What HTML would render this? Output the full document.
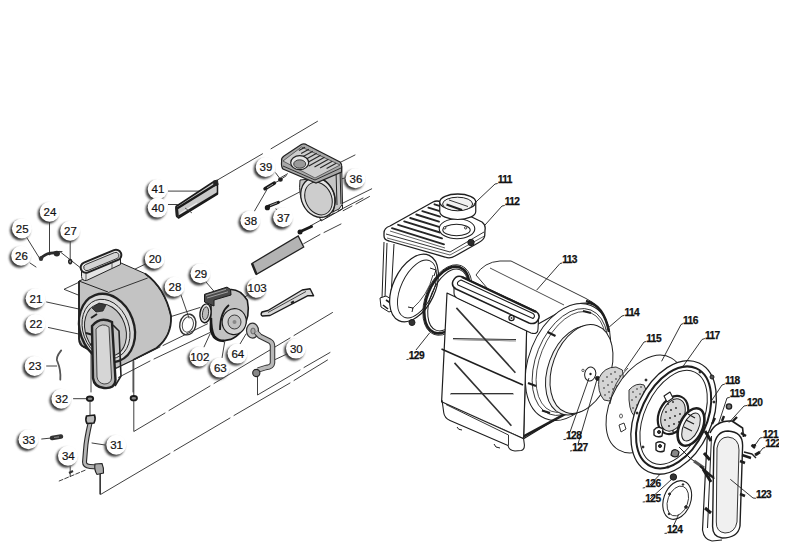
<!DOCTYPE html>
<html><head><meta charset="utf-8"><style>
html,body{margin:0;padding:0;background:#fff;width:800px;height:547px;overflow:hidden}
svg{display:block}
.c{font-family:"Liberation Sans",sans-serif;font-size:11.5px;fill:#111;stroke:#111;stroke-width:0.2px}
.b{font-family:"Liberation Sans",sans-serif;font-size:10.2px;font-weight:bold;fill:#111;stroke:#111;stroke-width:0.25px;letter-spacing:-0.55px}
</style></head><body>
<svg width="800" height="547" viewBox="0 0 800 547">
<defs><filter id="sh" x="-50%" y="-50%" width="200%" height="200%"><feGaussianBlur stdDeviation="1.1"/></filter></defs>
<rect width="800" height="547" fill="#fff"/>

<g fill="none" stroke="#2a2a2a" stroke-width="0.9" stroke-linecap="round">
<!-- axis lines left group -->
<path d="M217.5,180 L262.5,153.8 M271,148.8 L317.5,121.3" />
<path d="M276.2,204.1 L303.7,189.9" />
<path d="M281,177.5 L287.5,173.8" />
<path d="M340,162.5 L355,155" />
<path d="M341,204 L371.7,188.8" />
<path d="M343.2,210.7 L352,206 M356,204 L369.5,196.5" />
<path d="M310.2,226 L322,219.5 M326,217.5 L334,213 M338,211 L363,198" />
<path d="M303.7,243.7 L320,234.5 M324,232.5 L341,224" />
<!-- long lines bottom -->
<path d="M133.8,361.5 L133.8,431.5 L165,413 M169,410.5 L210,386 M214,383.5 L290,338 M294,335.5 L332.5,312.5" />
<path d="M100.5,473.5 L100.5,494.5 L170,453.5 M174,451 L230,418 M234,415.5 L290,383 M294,380.5 L327.5,360" />
<path d="M257.5,375 L257.5,395 L300,370 M304,367.5 L330,352.5" />
<path d="M115.6,368.7 L160,347 M163,345.5 L207.5,323.8" />
<path d="M118.5,377.4 L150,361 M154,359 L210,332.5" />
<path d="M160,320 L200,307.5" />
<path d="M79.5,282 L64,289.3 L79.5,295.5" />
<path d="M60,251.7 L82,269" />
<path d="M90,398.7 L90,419.5" />
<path d="M91,352 L91,392" />
<path d="M133,358 L133,392" />
<!-- leaders -->
<path d="M168.4,191.1 L199.2,191.1" />
<path d="M168.4,204.5 L177.4,204.5" />
<path d="M275.6,172.8 L279.5,178" />
<path d="M254.4,211.2 L266.7,190" />
<path d="M276,208.8 L279,214" />
<path d="M345,178 L337,180" />
<path d="M49.5,222 L49.5,255 Q52,251 62,251.5" />
<path d="M27,238 L40,259" />
<path d="M70.2,241 L70.2,262" />
<path d="M30,263 L36,267" />

<path d="M146,263.8 L131,271" />
<path d="M46.6,302 L96.9,312.9" />
<path d="M48.4,327.5 L82.3,334.8" />
<path d="M46.6,366 L56.7,366" />
<path d="M61.2,350.4 Q55,358 57.6,362 Q61,370 60.3,379.6" stroke-width="1.8" stroke="#555"/>
<path d="M73.5,398.7 L86,398.7" />
<path d="M41.7,439 L51.6,438" />
<path d="M70.2,466.7 L70.2,476.5" />
<path d="M59.2,481 L85.6,470" stroke-dasharray="4 2"/>
<path d="M105,445 L92,443" />
<path d="M181,295 L189,318" />
<path d="M206,282 L218,296" />
<path d="M248,295 L232,305" />
<path d="M204,347 L210,334" />
<path d="M222,358 L225,340" />
<path d="M240,344 L246,334" />
<path d="M287,354 L272,361" />
<path d="M99.8,472 L99.8,494" />
</g>
<!-- part 41/40 bar -->
<path d="M176,206.5 L214,181.5 L217.5,183.5 L217.5,194 L178.5,218 L176.5,216 Z" fill="#c9c9c9" stroke="#1a1a1a" stroke-width="1.5" stroke-linejoin="round"/>
<path d="M177,208.5 L216.5,184" stroke="#1a1a1a" stroke-width="2.2"/>
<path d="M178.5,216.5 L217.5,193" stroke="#1a1a1a" stroke-width="1.8"/>
<path d="M180,213.5 L197,203" stroke="#f4f4f4" stroke-width="1"/>
<path d="M176.5,207 L177.5,217" stroke="#222" stroke-width="2.8"/>
<path d="M213.5,181 L217.5,180 L218,185 L214,186 Z" fill="#222" stroke="#222" stroke-width="1"/>
<path d="M185,208 L192,213" stroke="#333" stroke-width="0.8"/>
<!-- o-ring 39, pin 38, screw 37 -->
<ellipse cx="280.4" cy="179.7" rx="2.4" ry="2.1" fill="#222"/>
<path d="M265,188.8 L274.5,183" stroke="#1a1a1a" stroke-width="3.4" stroke-linecap="round"/>
<path d="M267,187.8 L273,184.2" stroke="#999" stroke-width="1"/>
<path d="M274.5,183 L279.7,180.3 M282,178.5 L286.6,175.5" stroke="#222" stroke-width="0.9"/>
<path d="M268,206.5 L278.4,202.3" stroke="#1a1a1a" stroke-width="3" stroke-linecap="round"/>
<path d="M270,205.6 L277,202.8" stroke="#aaa" stroke-width="0.9"/>
<circle cx="267.4" cy="207.7" r="2.6" fill="#1a1a1a"/>
<path d="M300.5,231.5 L311.5,226.5" stroke="#1a1a1a" stroke-width="3" stroke-linecap="round"/>
<circle cx="300" cy="232" r="2.5" fill="#1a1a1a"/>
<!-- part 36 -->
<g stroke="#222" stroke-width="1">
<path d="M300,180 L324.4,177.5 L341.7,166 L342.5,204 L339,209 L322,217 L305,208 Q298,195 300,180 Z" fill="#c6c6c6"/>
<path d="M336,171 L337,205 M340,169 L341,204" fill="none" stroke-width="1"/>
<ellipse cx="318" cy="197.5" rx="16.5" ry="20.5" transform="rotate(-25 318 197.5)" fill="#e4e4e4" stroke-width="1.3"/>
<path d="M321,178 Q340,190 333,212" fill="none" stroke-width="1.1"/>
<ellipse cx="318.5" cy="198.5" rx="13" ry="17" transform="rotate(-25 318.5 198.5)" fill="#cdcdcd" stroke-width="1"/>
<path d="M319.4,217 L321,221 L342.5,209 L342.5,205" fill="none" stroke-width="1"/>
<path d="M281.6,161 Q281,158 284,156 L301.3,144.6 Q304,143 307,145 L340,162 Q342,164 341.7,167 L341.5,172 L316,183 L283,169 Q281,167 281.6,161 Z" fill="#a8a8a8" stroke-width="1.2"/>
<path d="M283,161 L301.5,147 L340,165 L315,178 Z" fill="#cdcdcd" stroke-width="0.6"/>
<path d="M283,166 L315,180 L341,168" fill="none" stroke-width="0.9"/>
<path d="M305.0,147.2 L298.9,150.6 M308.9,149.2 L301.1,153.6 M312.8,151.2 L303.2,156.6 M316.7,153.2 L302.8,161.0 M320.6,155.2 L304.9,164.0 M324.5,157.2 L308.8,166.0 M328.4,159.2 L314.5,167.0 M332.3,161.2 L320.1,168.1 M336.2,163.2 L326.6,168.6" stroke="#2a2a2a" stroke-width="1.2"/>
<ellipse cx="299.7" cy="162.7" rx="9" ry="7" fill="#e6e6e6" stroke-width="1.2"/>
<ellipse cx="299.7" cy="164" rx="6" ry="4.2" fill="#9a9a9a" stroke-width="0.8"/>
</g>
<!-- slab near 36 bottom -->
<path d="M252,263.4 L256.5,274.4 L303.7,247 L298.2,236 Z" fill="#b3b3b3" stroke="#222" stroke-width="1.3"/>
<path d="M252,263.4 L256.5,274.4" stroke="#222" stroke-width="2.5"/>
<!-- part 24-27 -->
<path d="M40.5,258.5 Q47,252 56,253" fill="none" stroke="#2a2a2a" stroke-width="2.6"/>
<ellipse cx="41" cy="258.5" rx="2.2" ry="2.6" fill="#333"/>
<ellipse cx="56.8" cy="253.6" rx="3.2" ry="2.8" fill="#2a2a2a"/>
<ellipse cx="70.2" cy="261.6" rx="2.2" ry="2.8" fill="#222"/>
<ellipse cx="70.2" cy="261.6" rx="0.8" ry="1.2" fill="#999"/>
<!-- part 20 housing -->
<g stroke="#222" stroke-width="1">
<path d="M79,281 L121,263 L145,273.6 Q165,288 171,316 Q172,336 156.5,348 L133,360 L116,368 L92,352 L83,347 L79,339 Z" fill="#c3c3c3"/>
<path d="M145,273.6 Q165,288 171,316 Q172,336 156.5,348 L133,360" fill="none" stroke-width="1.8"/>
<path d="M108.2,292.6 L147.7,278" stroke-width="0.9"/>
<path d="M79,281 L79,339 Q79,346 85,347 L92,351" fill="none" stroke-width="1.8"/>
<path d="M79,281 L108,292" fill="none" stroke-width="1"/>
<ellipse cx="107" cy="328" rx="27" ry="35" transform="rotate(-20 107 328)" fill="#d9d9d9" stroke-width="2.3"/>
<ellipse cx="106" cy="329" rx="23" ry="30.5" transform="rotate(-20 106 329)" fill="#dedede" stroke-width="0.9"/>
<ellipse cx="105.5" cy="330" rx="20" ry="27" transform="rotate(-20 105.5 330)" fill="#c4c4c4" stroke-width="1"/>
<path d="M92,308 L99,303 L106,305 L103,311 L96,312 Z" fill="#3a3a3a" stroke-width="0.8"/>
<path d="M91,318 L97,314 M86,333 L93,335 M90,345 L96,341" stroke-width="2" fill="none"/>


<path d="M81.5,268 L81.5,276.5 Q82,281 86.5,280.5 L120.5,264.5 L120.5,257 Z" fill="#e4e4e4" stroke-width="1"/>
<path d="M86,273 L86,280 M112,262 L112,268" stroke-width="0.7" fill="none"/>
<path d="M83.96,262.6 L113.96,250.1 A5.3,5.3 0 0 1 118.04,259.9 L88.04,272.4 A5.3,5.3 0 0 1 83.96,262.6 Z" fill="#e8e8e8" stroke-width="2"/>
<path d="M85.7,264.5 L114.5,252.6 A3.2,3.2 0 0 1 117,258.5 L88.2,270.4 A3.2,3.2 0 0 1 85.7,264.5 Z" fill="#d4d4d4" stroke-width="0.9"/>

<path d="M92,326 Q100,316 112,322 L115.5,380 Q115,389 104,388 Q94,387 93,378 Z" fill="#b8b8b8" stroke-width="2.4"/>
<path d="M113,325 L119,331 L121,376 L115,386" fill="none" stroke-width="1.6"/>
<path d="M96,329 Q102,322 109,327 L111.5,378 Q111,384 104,384 Q98,383 97,377 Z" fill="#d6d6d6" stroke-width="0.8"/>

</g>
<!-- ring 28 -->
<ellipse cx="187.8" cy="324.5" rx="8" ry="10.5" transform="rotate(12 187.8 324.5)" fill="none" stroke="#333" stroke-width="1.4"/>
<ellipse cx="187.8" cy="324.5" rx="5.5" ry="7.8" transform="rotate(12 187.8 324.5)" fill="none" stroke="#444" stroke-width="1"/>
<!-- blower 29 -->
<g stroke="#1a1a1a" stroke-width="1.2">
<path d="M213.4,293 L230.6,289.5 Q240,289 247.3,300.2 Q249,308 247.8,315.6 Q246,324 242.5,330 Q237,337 230.6,339.4 Q224,341 218.8,340.6 Q214,339 212.8,335.8 Q210,331 210.4,327.5 L211,305 Z" fill="#c2c2c2" stroke-width="1.6"/>
<path d="M211,318 Q211,330 214,336 Q218,341 224,341" fill="none" stroke-width="2.4"/>
<path d="M229,305 Q220,312 220,330" fill="none" stroke-width="1.8"/>
<path d="M204.5,294.3 L227,287.1 L230.6,289.5 L231,295 L214,300 L214,306 L204.5,302 Z" fill="#4a4a4a" stroke-width="1"/>
<path d="M206,295.5 L226,289.3 M207,298 L228,291.8" stroke="#aaa" stroke-width="0.9"/>
<ellipse cx="234.2" cy="321.6" rx="12" ry="13" transform="rotate(10 234.2 321.6)" fill="#d2d2d2" stroke-width="1.1"/>
<ellipse cx="234.5" cy="322" rx="6.5" ry="7" fill="#c0c0c0" stroke-width="0.8"/>
<circle cx="234.5" cy="322" r="2" fill="#888" stroke="none"/>
<ellipse cx="205.5" cy="313.3" rx="5.5" ry="9.5" transform="rotate(8 205.5 313.3)" fill="#e0e0e0" stroke-width="1.4"/>
<ellipse cx="205.5" cy="313.3" rx="3" ry="6.5" transform="rotate(8 205.5 313.3)" fill="#bbb" stroke-width="0.8"/>
</g>
<ellipse cx="252.5" cy="330.6" rx="6" ry="7.5" fill="#c4c4c4" stroke="#333" stroke-width="1.2"/>
<ellipse cx="253" cy="331" rx="2.2" ry="3" fill="#aaa" stroke="#333" stroke-width="0.6"/>
<!-- bar 103 -->
<path d="M262,312 Q260,315 262.5,316 L270,315.5 L307.5,295.8 L313.6,295.7 L310.1,288.7 L302.2,290 L268,310.5 Z" fill="#d8d8d8" stroke="#1a1a1a" stroke-width="1.4" stroke-linejoin="round"/>
<path d="M268,312.5 L306,291.5" stroke="#333" stroke-width="0.9"/>
<path d="M291,303 L294,301.5" stroke="#222" stroke-width="2"/>
<!-- pipe 30 -->
<path d="M256,332 L260,336.3 L270,341.3 Q273,343 272.5,348 L272.5,363 Q272,367 266,367.5 L258,370" fill="none" stroke="#333" stroke-width="5.5" stroke-linejoin="round"/>
<path d="M256,332 L260,336.3 L270,341.3 Q273,343 272.5,348 L272.5,363 Q272,367 266,367.5 L258,370" fill="none" stroke="#b8b8b8" stroke-width="3.5" stroke-linejoin="round"/>
<circle cx="256.3" cy="373" r="3.6" fill="#888" stroke="#222" stroke-width="1.1"/>
<!-- o-rings vertical lines -->
<ellipse cx="90" cy="398.7" rx="3.2" ry="2.2" fill="#888" stroke="#1a1a1a" stroke-width="1.8"/>
<ellipse cx="133.8" cy="398.2" rx="3.2" ry="2.2" fill="#888" stroke="#1a1a1a" stroke-width="1.8"/>
<!-- pipe 31 -->
<path d="M90.5,421 Q86,440 85.5,450 L84.5,462 Q84.5,466 90,466.5 L97,467" fill="none" stroke="#2a2a2a" stroke-width="5" stroke-linejoin="round"/>
<path d="M90.5,421 Q86,440 85.5,450 L84.5,462 Q84.5,466 90,466.5 L97,467" fill="none" stroke="#b5b5b5" stroke-width="2.8" stroke-linejoin="round"/>
<path d="M86.5,416 L94.5,415 Q96,419 94,423 L87,423.5 Q85,420 86.5,416 Z" fill="#bbb" stroke="#1a1a1a" stroke-width="1.6"/>
<path d="M95,464 L102,463.5 Q104,468 103.5,473 L97,474.5 Q94,470 95,464 Z" fill="#aaa" stroke="#222" stroke-width="1.1"/>
<!-- 33 part -->
<path d="M52,438 L61,436.5" stroke="#333" stroke-width="4.5" stroke-linecap="round"/><path d="M54,437.5 L59,436.8" stroke="#888" stroke-width="1.2"/>
<path d="M69,473 L73,471" stroke="#333" stroke-width="2"/>

<g stroke="#1e1e1e" stroke-width="1" fill="#fff" stroke-linejoin="round">
<!-- 112 body legs and opening -->
<path d="M384,242 L382,298 M387,243 L385,297 M394,244 L391,296" fill="none" stroke-width="1"/>
<path d="M380,298 L386,296 L393,300 L394,310 L389,312 L381,307 Z" fill="#fff" stroke-width="1"/>
<path d="M386,300 L392,304 M383,305 L388,309" stroke-width="1.6" fill="none"/>
<ellipse cx="414" cy="288" rx="21" ry="36" transform="rotate(25 414 288)" fill="#fff" stroke-width="1.2"/>
<ellipse cx="417" cy="289" rx="16" ry="31" transform="rotate(25 417 289)" fill="#fff" stroke-width="0.9"/>
<path d="M430,268 L436,270 L434,276 M408,307 L413,308 L412,312" fill="none" stroke-width="1"/>
<path d="M433,275 Q428,295 412,309" fill="none" stroke-width="0.8"/>
<circle cx="412" cy="322.5" r="3" fill="#333"/>
<!-- gasket 129 -->
<ellipse cx="447" cy="300" rx="20" ry="35" transform="rotate(22 447 300)" fill="none" stroke-width="2.6"/>
<ellipse cx="448" cy="300" rx="17.5" ry="32.5" transform="rotate(22 448 300)" fill="none" stroke-width="1"/>
<ellipse cx="447.5" cy="300" rx="22" ry="37" transform="rotate(22 447.5 300)" fill="none" stroke-width="0.8"/>
<!-- lid 112 -->
<path d="M384,233 Q384,228 390,226 L433,202 Q437,200 441,202 L482,222 Q486,225 485,230 L484.7,236 Q484,240 478,243 L455,256 Q450,259 445,257 L389,241 Q384,240 384,236 Z" fill="#fff" stroke-width="1.3"/>
<path d="M386,234 L450,252 L484,232" fill="none" stroke-width="0.9"/>
<path d="M387,238 L450,255 L484.5,236" fill="none" stroke-width="0.7"/>
<path d="M390,231 L445,248" fill="none" stroke-width="0.7"/>
<path d="M392.0,228.2 L444.0,244.3 M398.1,224.8 L442.0,238.4 M404.2,221.4 L440.0,232.5 M410.2,218.0 L439.0,226.9 M416.3,214.5 L439.0,221.6 M422.3,211.1 L440.0,216.6 M428.4,207.7 L443.0,212.2 M434.5,204.3 L446.0,207.9" stroke-width="1.9" stroke="#262626" fill="none" stroke-linecap="round"/>
<ellipse cx="457" cy="228.7" rx="17.8" ry="10" fill="#fff" stroke-width="1.1"/>
<ellipse cx="456.5" cy="230" rx="13.7" ry="5.7" fill="#fff" stroke-width="1.1"/>
<circle cx="444.7" cy="227.8" r="1.2" fill="#fff" stroke-width="0.9"/><circle cx="465.7" cy="227.8" r="1.2" fill="#fff" stroke-width="0.9"/>
<circle cx="471" cy="242.5" r="3.2" fill="#2a2a2a"/>
<!-- ring 111 -->
<path d="M439.75,202 L439.75,211.5 A18,8 0 0 0 475.75,211.5 L475.75,202" fill="#fff" stroke-width="1.2"/>
<ellipse cx="457.75" cy="202" rx="18" ry="8" fill="#fff" stroke-width="1.3"/>
<ellipse cx="457.6" cy="204" rx="15" ry="6.8" fill="#f0f0f0" stroke-width="1"/>
<path d="M446.5,204.5 L462,210" stroke-width="2" fill="none"/>
<path d="M449,200 L468,206.5" stroke-width="0.9" fill="none"/>
<!-- box 113 back cylinder -->
<path d="M476,275 Q484,262 500,261 L511,261 L586,298.5 Q594,302 598,308 L565.8,308.5 L525.6,333.2 Z" fill="#fff" stroke-width="0.9"/>
<path d="M490,268 L564,305" fill="none" stroke-width="0.8"/>
<!-- side panel -->
<path d="M526.6,330.5 L565.8,308.5 Q590,297 600,310 Q610,322 609.7,340 L566.3,412.7 L523.6,438.8 Z" fill="#fff" stroke-width="1.1"/>
<ellipse cx="568" cy="362" rx="39" ry="61" transform="rotate(22 568 362)" fill="#fff" stroke-width="1"/>
<ellipse cx="570" cy="362" rx="34" ry="56" transform="rotate(22 570 362)" fill="#fff" stroke-width="0.8"/>
<ellipse cx="571" cy="362" rx="31" ry="53" transform="rotate(22 571 362)" fill="#fff" stroke-width="0.7"/>
<path d="M586,301 Q604,305 609,332" fill="none" stroke-width="2.6"/>
<path d="M521,437.8 L566.3,413.3" fill="none" stroke-width="2.6"/>
<path d="M547.5,332 L555.5,336 M528,383 L536,386 M542,410.5 L550,413 M583,311 L591,313" stroke-width="2.2" fill="none"/>
<!-- disk 114 -->
<ellipse cx="577" cy="370.5" rx="29" ry="46" transform="rotate(20 577 370.5)" fill="#f2f2f2" stroke-width="1"/>
<ellipse cx="581.5" cy="369" rx="29" ry="46" transform="rotate(20 581.5 369)" fill="#fff" stroke-width="1"/>
<ellipse cx="590.2" cy="374" rx="5.5" ry="7" transform="rotate(15 590.2 374)" fill="#fff" stroke-width="1"/>
<circle cx="590.5" cy="374" r="1.2" fill="#222" stroke="none"/>
<circle cx="583" cy="370.4" r="1.2" fill="#fff" stroke-width="0.7"/>
<circle cx="597.5" cy="378.4" r="2" fill="#222"/>
<!-- front face of box 113 -->
<path d="M447,293 L526.6,330.5 L523.6,438.8 L441.6,401.7 Z" fill="#fff" stroke-width="1.2"/>
<path d="M457,427 Q458,430 462,430 M494,444 Q495,448 500,448" fill="none" stroke-width="1"/>
<path d="M442,400 L443.8,413 Q444.5,418 450,420.5 L508,445.5 Q509,450.5 515,451 L521,450.5 Q524.5,450 524.4,445 L523.6,438.8" fill="#fff" stroke-width="1.1"/>
<path d="M446,404.5 L508.5,435 L508.5,445.5" fill="none" stroke-width="0.9"/>
<path d="M441.6,401.7 L523.6,438.8" fill="none" stroke-width="1.1"/>
<path d="M441.5,349 L523,385" fill="none" stroke-width="1.6"/>
<path d="M453,339 L516,340.2 M450.6,394 L513.3,394" stroke="#333" stroke-width="2.2" fill="none"/>
<path d="M453,339.5 L516,340.5 M451,394.5 L513,394.5" stroke="#ddd" stroke-width="0.8" fill="none"/>
<path d="M456.4,307.9 L515.4,372.7 M454.5,362.9 L511.4,425.7" stroke="#333" stroke-width="1.6" fill="none"/>

<!-- outlet slot on top -->
<path d="M454,285 L454,293 Q454,297 459,299 L531,333 Q538,335 538,329 L538.5,319" fill="#fff" stroke-width="1.1"/>
<path d="M461,276.5 L536,311.5 Q541,315 538,320 Q535,325 529,323 L456,289 Q451,286 453,281 Q456,275 461,276.5 Z" fill="#fff" stroke-width="1.5"/>
<path d="M461,280 L533,313.5 Q536,316 533,318.5 L458,285 Q456,282 461,280 Z" fill="#fff" stroke-width="1.1"/>
<path d="M462,277 L536,312" stroke-width="2.2" fill="none"/>
<circle cx="511.5" cy="318" r="2.6" fill="#fff" stroke-width="1.3"/>
<circle cx="511.5" cy="318" r="1" fill="#333" stroke="none"/>
<!-- perforated cylinder 115 -->
<path d="M599,378 Q604,367 616,367 L622.4,370 Q625,382 620,396 Q614,403 604,400 Q597,392 599,378 Z" fill="#d4d4d4" stroke-width="0.9"/>
<g fill="#222" stroke="none"><circle cx="603.0" cy="381.0" r="0.8"/><circle cx="607.0" cy="377.0" r="0.8"/><circle cx="611.0" cy="374.0" r="0.8"/><circle cx="615.0" cy="372.0" r="0.8"/><circle cx="604.0" cy="388.0" r="0.8"/><circle cx="608.0" cy="385.0" r="0.8"/><circle cx="612.0" cy="382.0" r="0.8"/><circle cx="616.0" cy="379.0" r="0.8"/><circle cx="620.0" cy="376.0" r="0.8"/><circle cx="605.0" cy="395.0" r="0.8"/><circle cx="609.0" cy="392.0" r="0.8"/><circle cx="613.0" cy="389.0" r="0.8"/><circle cx="617.0" cy="386.0" r="0.8"/><circle cx="621.0" cy="383.0" r="0.8"/><circle cx="610.0" cy="398.0" r="0.8"/><circle cx="614.0" cy="395.0" r="0.8"/><circle cx="618.0" cy="392.0" r="0.8"/></g>
<!-- plate 116 -->
<ellipse cx="645" cy="404" rx="33" ry="53" transform="rotate(30 645 404)" fill="#fff" stroke-width="1"/>
<path d="M610,404 Q613,382 628,368" fill="none" stroke-width="0.8"/>
<path d="M619,425 L624,423 L626,429 L621,432 Z" stroke-width="0.9" fill="#fff"/>
<ellipse cx="621" cy="416" rx="1.5" ry="2" fill="#fff" stroke-width="0.7"/>
<path d="M629,390 Q636,382 644,385 L650,400 Q648,415 638,418 Q630,416 629,400 Z" fill="#d4d4d4" stroke-width="0.9"/>
<g fill="#222" stroke="none"><circle cx="633.0" cy="392.0" r="0.8"/><circle cx="637.0" cy="389.0" r="0.8"/><circle cx="641.0" cy="387.0" r="0.8"/><circle cx="632.0" cy="400.0" r="0.8"/><circle cx="636.0" cy="397.0" r="0.8"/><circle cx="640.0" cy="394.0" r="0.8"/><circle cx="644.0" cy="392.0" r="0.8"/><circle cx="633.0" cy="408.0" r="0.8"/><circle cx="637.0" cy="405.0" r="0.8"/><circle cx="641.0" cy="402.0" r="0.8"/><circle cx="645.0" cy="399.0" r="0.8"/><circle cx="638.0" cy="412.0" r="0.8"/><circle cx="642.0" cy="409.0" r="0.8"/></g>
<!-- flange 117 -->
<ellipse cx="673.6" cy="417.4" rx="38" ry="60" transform="rotate(25 673.6 417.4)" fill="#fff" stroke-width="1.3"/>
<ellipse cx="673.6" cy="417.4" rx="33" ry="54" transform="rotate(25 673.6 417.4)" fill="#fff" stroke-width="2"/>
<ellipse cx="673.6" cy="417.4" rx="29" ry="50" transform="rotate(25 673.6 417.4)" fill="#fff" stroke-width="1"/>
<ellipse cx="673" cy="415" rx="14" ry="20" transform="rotate(25 673 415)" fill="#fff" stroke-width="2.2"/>
<ellipse cx="673" cy="415" rx="11" ry="17" transform="rotate(25 673 415)" fill="#d6d6d6" stroke-width="1"/>
<g fill="#222" stroke="none"><circle cx="668" cy="404" r="0.9"/><circle cx="673" cy="402" r="0.9"/><circle cx="666" cy="412" r="0.9"/><circle cx="671" cy="410" r="0.9"/><circle cx="676" cy="408" r="0.9"/><circle cx="665" cy="420" r="0.9"/><circle cx="670" cy="418" r="0.9"/><circle cx="675" cy="416" r="0.9"/><circle cx="680" cy="414" r="0.9"/><circle cx="669" cy="426" r="0.9"/><circle cx="674" cy="424" r="0.9"/><circle cx="679" cy="422" r="0.9"/><circle cx="673" cy="431" r="0.9"/></g>
<path d="M664,396 L670,392 L673,398 L667,402 Z" fill="#fff" stroke-width="1.1"/>
<ellipse cx="691" cy="427" rx="11.5" ry="20" transform="rotate(25 691 427)" fill="#fff" stroke-width="2.6"/>
<ellipse cx="691" cy="427" rx="7.5" ry="15" transform="rotate(25 691 427)" fill="#e2e2e2" stroke-width="1"/>
<path d="M686,420 L694,424 M684,427 L692,431 M688,414 L695,418" stroke-width="1.2" fill="none"/>
<path d="M654,430 Q658,425 663,429 L662,436 Q657,438 654,435 Z M656,443 Q661,440 665,444 L664,451 Q659,453 656,450 Z" fill="#fff" stroke-width="1.4"/>
<circle cx="659" cy="432" r="1.5" fill="#333"/><circle cx="660" cy="446" r="1.5" fill="#333"/>
<path d="M672,451 Q676,448 679,452 L678,456 Q674,458 671,455 Z" fill="#888" stroke-width="1.2"/>
<circle cx="646" cy="380" r="1" fill="#333"/><circle cx="637" cy="413" r="1" fill="#333"/><circle cx="643" cy="447" r="1" fill="#333"/><circle cx="668" cy="467" r="1" fill="#333"/><circle cx="700" cy="372" r="1" fill="#333"/><circle cx="714" cy="402" r="1" fill="#333"/>
<circle cx="712" cy="377" r="2" fill="#555"/>

<!-- 123 cover assembly -->
<path d="M707.5,432 L702.5,530 Q704,540 712,541 L722,540" fill="none" stroke-width="1.2"/>
<path d="M711.5,436 L707.5,528" fill="none" stroke-width="1"/>
<path d="M713.8,447 Q716,431 728,431 Q743,432 742.6,446 L740,526 Q738,538 722,538 Q712,537 712.6,525 Z" fill="#fff" stroke-width="1.4"/>
<path d="M717,448 Q719,437 728,437 Q739,438 739,450 L737,522 Q735,533 725,533 Q716,532 716.3,522 Z" fill="#f0f0f0" stroke-width="0.9"/>
<path d="M710,433 Q716,420 732,421 L742.6,428 L743.5,437" fill="none" stroke-width="1.6"/>
<path d="M712,424 L715,418 M722,421 L724,416 M733,421 L737,417" stroke-width="2.4" fill="none"/>
<path d="M705,431 L711,441 M704,453 L710,460 M703,469 L711,482 M705,508 L711,513" stroke-width="3" fill="none"/>
<path d="M741,433 L746,436 M740,461 L745,463 M740,494 L745,496" stroke-width="2.6" fill="none"/>
<path d="M679,447 L690,458 L698,464 L714.5,478.5" fill="none" stroke-width="1"/>
<path d="M694,461 L704,468" stroke-width="3" fill="none" stroke="#555"/>
<path d="M700,466 L709,474 M706,472 L714,478" stroke-width="2.2" fill="none"/>
<circle cx="729" cy="406.5" r="2.6" fill="#777" stroke-width="1.4"/>
<path d="M751.5,445 L755,448 M742,455 L751,458" stroke-width="2.4" fill="none"/>
<path d="M744,452 L752,454 L756,458" fill="none" stroke-width="1.4"/>
<!-- gasket 124 -->
<ellipse cx="677.2" cy="500" rx="13.5" ry="20" transform="rotate(20 677.2 500)" fill="#fff" stroke-width="1.1"/>
<ellipse cx="677.8" cy="501" rx="10" ry="15.5" transform="rotate(20 677.8 501)" fill="#fff" stroke-width="0.8"/>
<circle cx="669.5" cy="494" r="1" fill="#333"/><circle cx="686" cy="507" r="1.3" fill="#333"/><circle cx="683" cy="484.5" r="0.8" fill="#333"/><circle cx="669" cy="514" r="0.8" fill="#333"/>
<circle cx="673.4" cy="477" r="3.2" fill="#333"/>
<!-- screws 121 122 -->
<path d="M752,446 L756,445 M755,455 L760,452" stroke-width="2.8" fill="none"/>
</g>
<!-- right leaders -->
<g fill="none" stroke="#1e1e1e" stroke-width="0.9">
<path d="M497.7,183.5 L495,184 L473.6,204.2" />
<path d="M504.7,205.5 L502,206 L484.7,225.4" />
<path d="M562.2,263 L560,263.5 L536.6,290.2" />
<path d="M624.4,315.4 L622,316 L606.5,329.3" />
<path d="M646.3,341.5 L644,342 L624.2,370.7" />
<path d="M683,323.6 L681,324.5 L661.6,361.3" />
<path d="M704.9,338.5 L702,339.5 L683.3,366" />
<path d="M724.9,384 L722,385 L712,400" />
<path d="M729.8,397.3 L727,398 L718.3,424.3" />
<path d="M747,405.5 L744,406 L729,422.6" />
<path d="M762.7,437.5 L760,438 L755.3,444.8" />
<path d="M765.2,447.5 L763,448 L757,455.5" />
<path d="M755.9,498.3 L753,498 L730.3,479.3" />
<path d="M667,533.2 L664.5,533.4 M673.4,526 L678.5,514.8" />
<path d="M645.2,501.8 L642.7,502 M650,499 L672,479" />
<path d="M645.2,487.6 L642.7,488 M650,485 L659.3,475" />
<path d="M566,439.3 L563.5,439.5 M570,432 L589,378" />
<path d="M572.2,450.7 L570,451 M578,444 L597,379.4" />
<path d="M408.7,359.3 L406.5,359.5 M416,350 L429.7,332.8" />
</g>

<g transform="translate(157.7,189.1)"><circle cx="-1.8" cy="1.9" r="10.2" fill="#3a3a3a" filter="url(#sh)"/><circle r="10" fill="#fff"/><text x="0.3" y="4.3" text-anchor="middle" class="c">41</text></g>
<g transform="translate(157.7,207.6)"><circle cx="-1.8" cy="1.9" r="10.2" fill="#3a3a3a" filter="url(#sh)"/><circle r="10" fill="#fff"/><text x="0.3" y="4.3" text-anchor="middle" class="c">40</text></g>
<g transform="translate(265.7,167.0)"><circle cx="-1.8" cy="1.9" r="10.2" fill="#3a3a3a" filter="url(#sh)"/><circle r="10" fill="#fff"/><text x="0.3" y="4.3" text-anchor="middle" class="c">39</text></g>
<g transform="translate(250.4,220.4)"><circle cx="-1.8" cy="1.9" r="10.2" fill="#3a3a3a" filter="url(#sh)"/><circle r="10" fill="#fff"/><text x="0.3" y="4.3" text-anchor="middle" class="c">38</text></g>
<g transform="translate(283.1,217.3)"><circle cx="-1.8" cy="1.9" r="10.2" fill="#3a3a3a" filter="url(#sh)"/><circle r="10" fill="#fff"/><text x="0.3" y="4.3" text-anchor="middle" class="c">37</text></g>
<g transform="translate(355.6,178.2)"><circle cx="-1.8" cy="1.9" r="10.2" fill="#3a3a3a" filter="url(#sh)"/><circle r="10" fill="#fff"/><text x="0.3" y="4.3" text-anchor="middle" class="c">36</text></g>
<g transform="translate(49.7,211.8)"><circle cx="-1.8" cy="1.9" r="10.2" fill="#3a3a3a" filter="url(#sh)"/><circle r="10" fill="#fff"/><text x="0.3" y="4.3" text-anchor="middle" class="c">24</text></g>
<g transform="translate(21.9,228.4)"><circle cx="-1.8" cy="1.9" r="10.2" fill="#3a3a3a" filter="url(#sh)"/><circle r="10" fill="#fff"/><text x="0.3" y="4.3" text-anchor="middle" class="c">25</text></g>
<g transform="translate(70.2,230.8)"><circle cx="-1.8" cy="1.9" r="10.2" fill="#3a3a3a" filter="url(#sh)"/><circle r="10" fill="#fff"/><text x="0.3" y="4.3" text-anchor="middle" class="c">27</text></g>
<g transform="translate(21.2,255.7)"><circle cx="-1.8" cy="1.9" r="10.2" fill="#3a3a3a" filter="url(#sh)"/><circle r="10" fill="#fff"/><text x="0.3" y="4.3" text-anchor="middle" class="c">26</text></g>
<g transform="translate(154.8,258.8)"><circle cx="-1.8" cy="1.9" r="10.2" fill="#3a3a3a" filter="url(#sh)"/><circle r="10" fill="#fff"/><text x="0.3" y="4.3" text-anchor="middle" class="c">20</text></g>
<g transform="translate(35.6,298.3)"><circle cx="-1.8" cy="1.9" r="10.2" fill="#3a3a3a" filter="url(#sh)"/><circle r="10" fill="#fff"/><text x="0.3" y="4.3" text-anchor="middle" class="c">21</text></g>
<g transform="translate(35.6,323.9)"><circle cx="-1.8" cy="1.9" r="10.2" fill="#3a3a3a" filter="url(#sh)"/><circle r="10" fill="#fff"/><text x="0.3" y="4.3" text-anchor="middle" class="c">22</text></g>
<g transform="translate(34.7,365.9)"><circle cx="-1.8" cy="1.9" r="10.2" fill="#3a3a3a" filter="url(#sh)"/><circle r="10" fill="#fff"/><text x="0.3" y="4.3" text-anchor="middle" class="c">23</text></g>
<g transform="translate(174.6,286.8)"><circle cx="-1.8" cy="1.9" r="10.2" fill="#3a3a3a" filter="url(#sh)"/><circle r="10" fill="#fff"/><text x="0.3" y="4.3" text-anchor="middle" class="c">28</text></g>
<g transform="translate(200.5,273.3)"><circle cx="-1.8" cy="1.9" r="10.2" fill="#3a3a3a" filter="url(#sh)"/><circle r="10" fill="#fff"/><text x="0.3" y="4.3" text-anchor="middle" class="c">29</text></g>
<g transform="translate(256.8,287.8)"><circle cx="-1.8" cy="1.9" r="10.2" fill="#3a3a3a" filter="url(#sh)"/><circle r="10" fill="#fff"/><text x="0.3" y="4.3" text-anchor="middle" class="c">103</text></g>
<g transform="translate(199.5,356.5)"><circle cx="-1.8" cy="1.9" r="10.2" fill="#3a3a3a" filter="url(#sh)"/><circle r="10" fill="#fff"/><text x="0.3" y="4.3" text-anchor="middle" class="c">102</text></g>
<g transform="translate(220.0,367.6)"><circle cx="-1.8" cy="1.9" r="10.2" fill="#3a3a3a" filter="url(#sh)"/><circle r="10" fill="#fff"/><text x="0.3" y="4.3" text-anchor="middle" class="c">63</text></g>
<g transform="translate(237.5,353.6)"><circle cx="-1.8" cy="1.9" r="10.2" fill="#3a3a3a" filter="url(#sh)"/><circle r="10" fill="#fff"/><text x="0.3" y="4.3" text-anchor="middle" class="c">64</text></g>
<g transform="translate(296.0,348.6)"><circle cx="-1.8" cy="1.9" r="10.2" fill="#3a3a3a" filter="url(#sh)"/><circle r="10" fill="#fff"/><text x="0.3" y="4.3" text-anchor="middle" class="c">30</text></g>
<g transform="translate(61.4,398.7)"><circle cx="-1.8" cy="1.9" r="10.2" fill="#3a3a3a" filter="url(#sh)"/><circle r="10" fill="#fff"/><text x="0.3" y="4.3" text-anchor="middle" class="c">32</text></g>
<g transform="translate(28.5,439.2)"><circle cx="-1.8" cy="1.9" r="10.2" fill="#3a3a3a" filter="url(#sh)"/><circle r="10" fill="#fff"/><text x="0.3" y="4.3" text-anchor="middle" class="c">33</text></g>
<g transform="translate(116.3,444.7)"><circle cx="-1.8" cy="1.9" r="10.2" fill="#3a3a3a" filter="url(#sh)"/><circle r="10" fill="#fff"/><text x="0.3" y="4.3" text-anchor="middle" class="c">31</text></g>
<g transform="translate(68.0,455.7)"><circle cx="-1.8" cy="1.9" r="10.2" fill="#3a3a3a" filter="url(#sh)"/><circle r="10" fill="#fff"/><text x="0.3" y="4.3" text-anchor="middle" class="c">34</text></g>
<text x="497.7" y="183.3" class="b">111</text>
<text x="504.7" y="205.4" class="b">112</text>
<text x="562.2" y="262.9" class="b">113</text>
<text x="624.4" y="315.5" class="b">114</text>
<text x="646.3" y="341.6" class="b">115</text>
<text x="683" y="323.7" class="b">116</text>
<text x="704.9" y="339" class="b">117</text>
<text x="724.9" y="384" class="b">118</text>
<text x="729.8" y="397.2" class="b">119</text>
<text x="747" y="405.5" class="b">120</text>
<text x="762.7" y="437.5" class="b">121</text>
<text x="765.2" y="447.4" class="b">122</text>
<text x="755.9" y="498.2" class="b">123</text>
<text x="667" y="532.8" class="b">124</text>
<text x="645.2" y="501.5" class="b">125</text>
<text x="645.2" y="487.4" class="b">126</text>
<text x="572.2" y="450.8" class="b">127</text>
<text x="566" y="439.2" class="b">128</text>
<text x="408.7" y="358.9" class="b">129</text>
<rect x="779" y="437" width="21" height="13" fill="#fff"/>
</svg>
</body></html>
